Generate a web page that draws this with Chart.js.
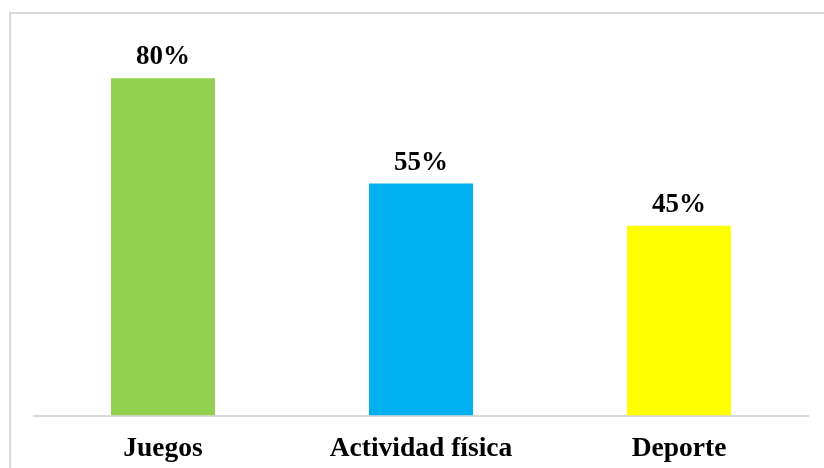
<!DOCTYPE html>
<html>
<head>
<meta charset="utf-8">
<script src="https://cdn.jsdelivr.net/npm/chart.js@4"></script>
<style>
  html, body { margin: 0; padding: 0; background: #fff; }
  #wrap { position: relative; width: 824px; height: 468px; overflow: hidden; }
  #frame { position: absolute; left: 9px; top: 12px; width: 900px; height: 600px; border: 2px solid #d9d9d9; box-sizing: border-box; }
  canvas { position: absolute; left: 0; top: 0; }
</style>
</head>
<body>
<div id="wrap">
  <div id="frame"></div>
  <canvas id="chart" width="824" height="468"></canvas>
</div>
<script>
const categories = ['Juegos', 'Actividad física', 'Deporte'];
const values = [80, 55, 45];
const barColors = ['#92D050', '#00B0F0', '#FFFF00'];

const fontFamily = '"Liberation Serif", "Times New Roman", serif';

// percent labels above each bar
const valueLabels = {
  id: 'valueLabels',
  afterDatasetsDraw(chart) {
    const ctx = chart.ctx;
    const meta = chart.getDatasetMeta(0);
    ctx.save();
    ctx.font = 'bold 27px ' + fontFamily;
    ctx.fillStyle = '#000';
    ctx.textAlign = 'center';
    ctx.textBaseline = 'alphabetic';
    meta.data.forEach((bar, i) => {
      ctx.fillText(values[i] + '%', bar.x, bar.y - 14);
    });
    ctx.restore();
  }
};

new Chart(document.getElementById('chart'), {
  type: 'bar',
  data: {
    labels: categories,
    datasets: [{
      data: values,
      backgroundColor: barColors,
      categoryPercentage: 1,
      barPercentage: 0.403
    }]
  },
  options: {
    responsive: false,
    animation: false,
    layout: { padding: { left: 34, right: 16, top: 36, bottom: 0 } },
    plugins: { legend: { display: false }, tooltip: { enabled: false } },
    scales: {
      y: { display: false, min: 0, max: 90 },
      x: {
        grid: { display: false, drawTicks: false },
        border: { display: true, color: '#d9d9d9', width: 2 },
        ticks: {
          color: '#000',
          padding: 17,
          font: { family: fontFamily, size: 27.5, weight: 'bold' }
        },
        afterFit(scale) { scale.height = 52.5; }
      }
    }
  },
  plugins: [valueLabels]
});
</script>
</body>
</html>
